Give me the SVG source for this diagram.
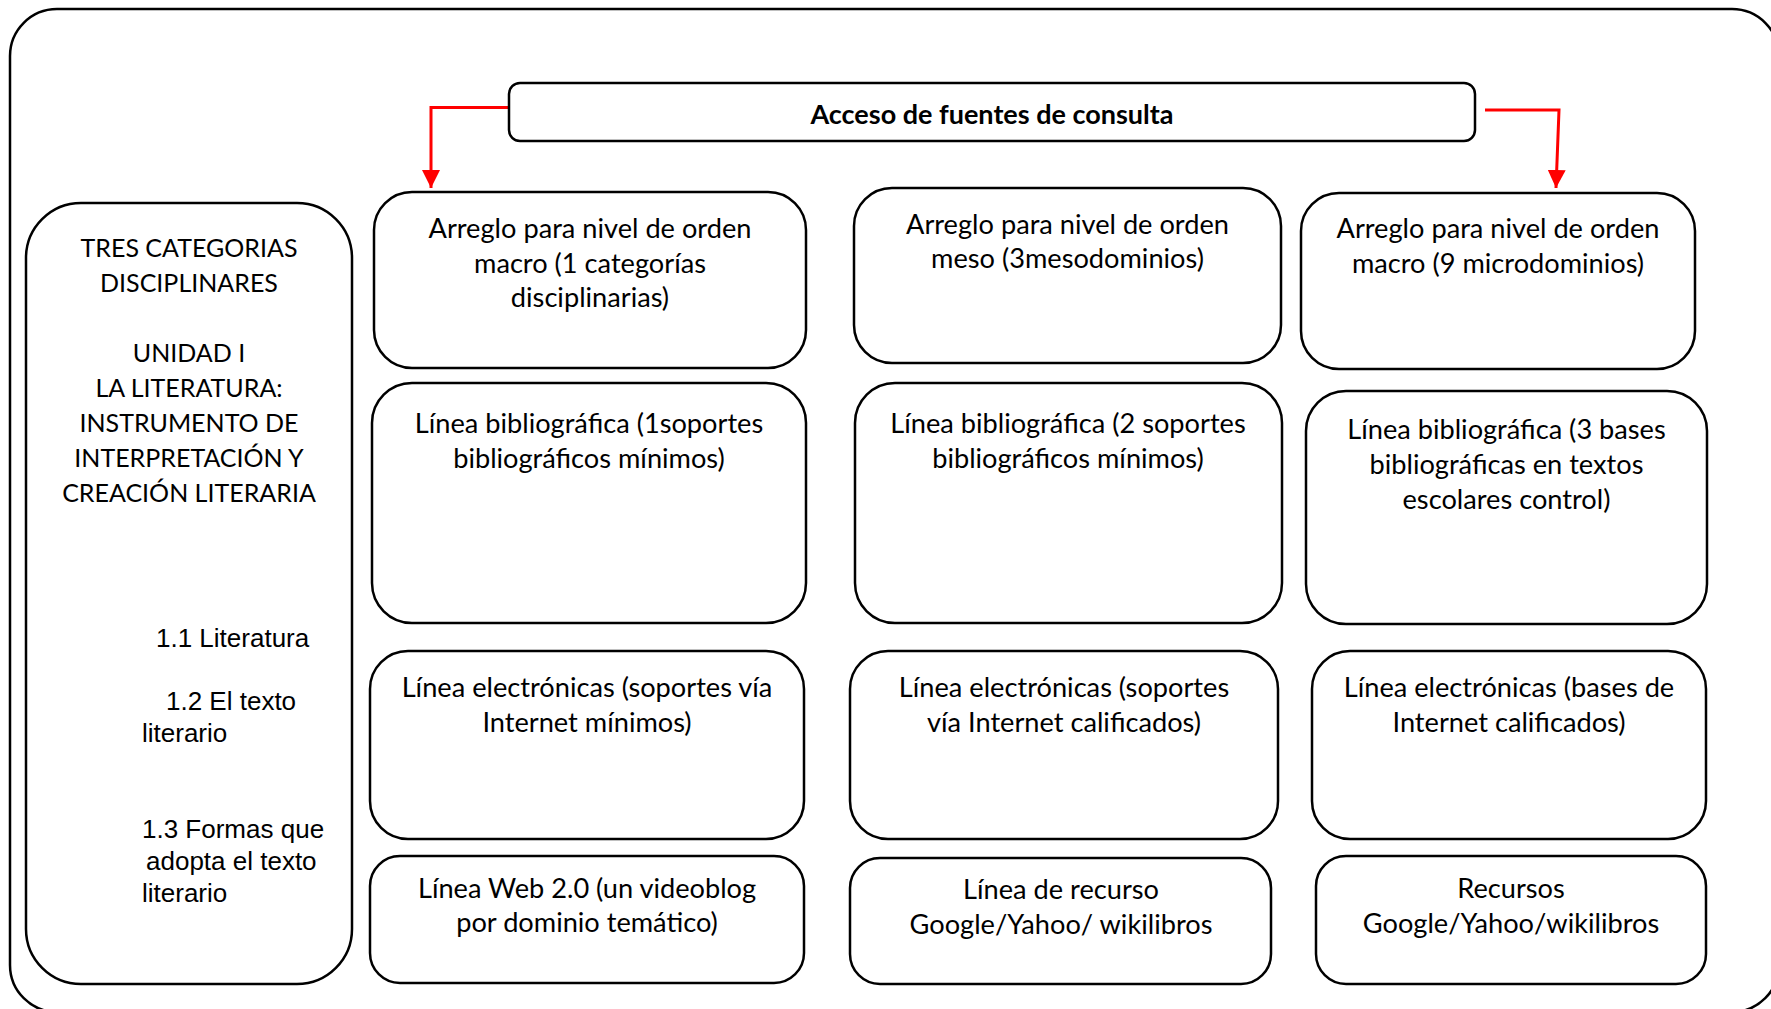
<svg xmlns="http://www.w3.org/2000/svg" width="1771" height="1009" viewBox="0 0 1771 1009">
<defs>
<style>
.box{fill:#fff;stroke:#000;stroke-width:2.5}
.t{font-family:Lato,"Open Sans","Liberation Sans",sans-serif;font-size:27.2px;fill:#000;text-anchor:middle}
.tu{font-family:Lato,"Open Sans","Liberation Sans",sans-serif;font-size:25px;fill:#000;text-anchor:middle}
.tb{font-family:Lato,"Open Sans","Liberation Sans",sans-serif;font-size:27px;font-weight:bold;fill:#000;text-anchor:middle}
.ta{font-family:"Liberation Sans",Arial,sans-serif;font-size:26px;fill:#000}
.arr{fill:none;stroke:#ff0000;stroke-width:3}
</style>
<marker id="ah" markerUnits="userSpaceOnUse" markerWidth="18" markerHeight="18" viewBox="0 0 16 16" refX="16" refY="8" orient="auto">
<path d="M0,0 L16,8 L0,16 Z" fill="#ff0000"/>
</marker>
</defs>
<rect width="1771" height="1009" fill="#fff"/>
<rect id="frame" x="10" y="9" width="1769" height="1003" rx="47" fill="none" stroke="#000" stroke-width="2.5"/>

<g id="connectors">
<path class="arr" d="M509,107.5 H431 V188" marker-end="url(#ah)"/>
<path class="arr" d="M1485,110 H1559 L1556,188" marker-end="url(#ah)"/>
</g>

<g id="acceso">
<rect class="box" x="509" y="83" width="966" height="58" rx="11"/>
<text class="tb" x="992" y="124">Acceso de fuentes de consulta</text>
</g>

<g id="categorias">
<rect class="box" x="26" y="203" width="326" height="781" rx="55"/>
<text class="tu" x="189" y="257">TRES CATEGORIAS</text>
<text class="tu" x="189" y="292">DISCIPLINARES</text>
<text class="tu" x="189" y="362">UNIDAD I</text>
<text class="tu" x="189" y="397">LA LITERATURA:</text>
<text class="tu" x="189" y="432">INSTRUMENTO DE</text>
<text class="tu" x="189" y="467">INTERPRETACIÓN Y</text>
<text class="tu" x="189" y="502">CREACIÓN LITERARIA</text>
<text class="ta" x="156" y="647">1.1 Literatura</text>
<text class="ta" x="166" y="710">1.2 El texto</text>
<text class="ta" x="142" y="742">literario</text>
<text class="ta" x="142" y="838">1.3 Formas que</text>
<text class="ta" x="146" y="870">adopta el texto</text>
<text class="ta" x="142" y="902">literario</text>
</g>

<g id="a1">
<rect class="box" x="374" y="192" width="432" height="176" rx="38"/>
<text class="t" x="590" y="238">Arreglo para nivel de orden</text>
<text class="t" x="590" y="273">macro (1 categorías</text>
<text class="t" x="590" y="307">disciplinarias)</text>
</g>
<g id="a2">
<rect class="box" x="854" y="188" width="427" height="175" rx="38"/>
<text class="t" x="1067.5" y="234">Arreglo para nivel de orden</text>
<text class="t" x="1067.5" y="268">meso (3mesodominios)</text>
</g>
<g id="a3">
<rect class="box" x="1301" y="193" width="394" height="176" rx="38"/>
<text class="t" x="1498" y="238">Arreglo para nivel de orden</text>
<text class="t" x="1498" y="273">macro (9 microdominios)</text>
</g>

<g id="b1">
<rect class="box" x="372" y="383" width="434" height="240" rx="40"/>
<text class="t" x="589" y="433">Línea bibliográfica (1soportes</text>
<text class="t" x="589" y="468">bibliográficos mínimos)</text>
</g>
<g id="b2">
<rect class="box" x="855" y="383" width="427" height="240" rx="40"/>
<text class="t" x="1068" y="433">Línea bibliográfica (2 soportes</text>
<text class="t" x="1068" y="468">bibliográficos mínimos)</text>
</g>
<g id="b3">
<rect class="box" x="1306" y="391" width="401" height="233" rx="40"/>
<text class="t" x="1506.5" y="439">Línea bibliográfica (3 bases</text>
<text class="t" x="1506.5" y="474">bibliográficas en textos</text>
<text class="t" x="1506.5" y="509">escolares control)</text>
</g>

<g id="c1">
<rect class="box" x="370" y="651" width="434" height="188" rx="38"/>
<text class="t" x="587" y="697">Línea electrónicas (soportes vía</text>
<text class="t" x="587" y="732">Internet mínimos)</text>
</g>
<g id="c2">
<rect class="box" x="850" y="651" width="428" height="188" rx="38"/>
<text class="t" x="1064" y="697">Línea electrónicas (soportes</text>
<text class="t" x="1064" y="732">vía Internet calificados)</text>
</g>
<g id="c3">
<rect class="box" x="1312" y="651" width="394" height="188" rx="38"/>
<text class="t" x="1509" y="697">Línea electrónicas (bases de</text>
<text class="t" x="1509" y="732">Internet calificados)</text>
</g>

<g id="d1">
<rect class="box" x="370" y="856" width="434" height="127" rx="30"/>
<text class="t" x="587" y="898">Línea Web 2.0 (un videoblog</text>
<text class="t" x="587" y="932">por dominio temático)</text>
</g>
<g id="d2">
<rect class="box" x="850" y="858" width="421" height="126" rx="30"/>
<text class="t" x="1061" y="899">Línea de recurso</text>
<text class="t" x="1061" y="934">Google/Yahoo/ wikilibros</text>
</g>
<g id="d3">
<rect class="box" x="1316" y="856" width="390" height="128" rx="30"/>
<text class="t" x="1511" y="898">Recursos</text>
<text class="t" x="1511" y="933">Google/Yahoo/wikilibros</text>
</g>
</svg>
